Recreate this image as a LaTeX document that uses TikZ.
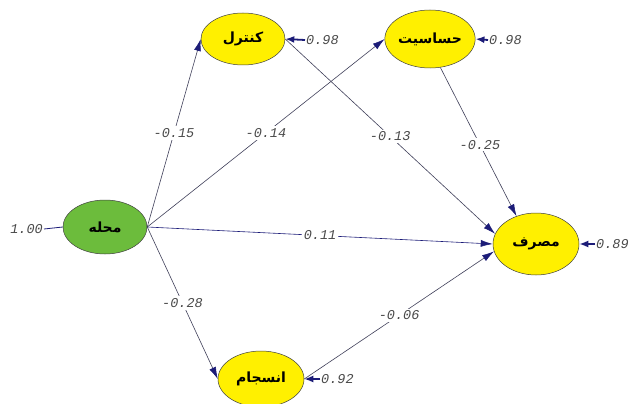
\documentclass[tikz,border=0pt]{standalone}
\usepackage{fontspec}
\setmonofont{Liberation Mono}
\newfontfamily\fa[Script=Arabic]{DejaVu Sans}
\TeXXeTstate=1
\usetikzlibrary{arrows.meta,shapes.geometric}
\definecolor{navy}{HTML}{1C1C78}
\definecolor{lnc}{HTML}{40405A}
\definecolor{ylw}{HTML}{FFF000}
\definecolor{grn}{HTML}{6CBC3C}
\definecolor{txg}{HTML}{4A4A4A}
\tikzset{
  lv/.style={ellipse, draw=black!75, line width=0.5pt, inner sep=0pt,
    minimum width=84pt, minimum height=54pt,
    font=\fa\bfseries\fontsize{14}{16}\selectfont},
  yv/.style={lv, fill=ylw},
  gv/.style={lv, fill=grn},
  conn/.style={draw=lnc, line width=0.6pt, -{Latex[length=12pt,width=7pt,color=navy,fill=navy]}},
  lab/.style={fill=white, inner sep=2pt, font=\ttfamily\itshape\fontsize{13.5}{14}\selectfont, text=txg},
  elab/.style={inner sep=1pt, font=\ttfamily\itshape\fontsize{13.5}{14}\selectfont, text=txg},
  earr/.style={draw=navy, line width=1.8pt, -{Latex[length=9pt,width=7pt,fill=navy]}}
}
\begin{document}
\begin{tikzpicture}[x=1pt,y=-1pt]
\useasboundingbox[fill=white] (0,0) rectangle (629,404);
\node[gv] (m) at (105,227) {\beginR محله\endR};
\node[yv, minimum height=52pt] (k) at (243,39) {\beginR کنترل\endR};
\node[yv, minimum height=58pt] (h) at (430,39) {\beginR حساسیت\endR};
\node[yv, minimum width=86pt, minimum height=62pt] (s) at (536,244) {\beginR مصرف\endR};
\node[yv, minimum width=86pt, minimum height=56pt] (a) at (261,379) {\beginR انسجام\endR};

\draw[conn] (m.east) -- node[lab] {-0.15} (k.west);
\draw[conn] (m.east) -- node[lab] {-0.14} (h.west);
\draw[conn, draw=navy] (m.east) -- node[lab] {0.11} (s.west);
\draw[conn] (m.east) -- node[lab] {-0.28} (a.west);
\draw[conn] (k.east) -- node[lab] {-0.13} (s.166);
\draw[conn] (h.-70) -- node[lab, pos=0.52] {-0.25} (s.125);
\draw[conn] (a.east) -- node[lab] {-0.06} (s.190);

\node[elab, anchor=east] (em) at (44,229) {1.00};
\draw[draw=navy, line width=0.8pt] (em.east) -- (m.west);
\node[elab, anchor=west] (ek) at (305,40) {0.98};
\draw[earr] (ek.west) -- (k.east);
\node[elab, anchor=west] (eh) at (488,40) {0.98};
\draw[earr] (eh.west) -- (h.east);
\node[elab, anchor=west] (es) at (595,244) {0.89};
\draw[earr] (es.west) -- (s.east);
\node[elab, anchor=west] (ea) at (320,379) {0.92};
\draw[earr] (ea.west) -- (a.east);
\end{tikzpicture}
\end{document}
